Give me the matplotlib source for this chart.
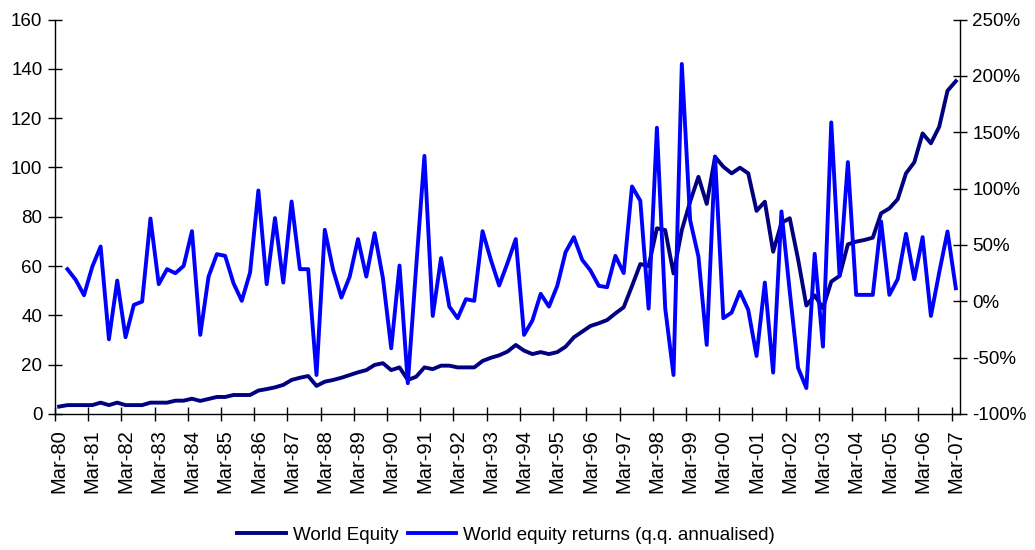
import numpy as np
import matplotlib
matplotlib.use("Agg")
from matplotlib import pyplot as plt
from matplotlib.ticker import FuncFormatter

plt.rcParams["font.family"] = ["Liberation Sans", "DejaVu Sans"]

# quarterly, Mar-80 .. Mar-07
years = ["80", "81", "82", "83", "84", "85", "86", "87", "88", "89",
         "90", "91", "92", "93", "94", "95", "96", "97", "98", "99",
         "00", "01", "02", "03", "04", "05", "06", "07"]
tick_labels = ["Mar-" + y for y in years]

world_equity = [
    3.0, 3.6, 3.6, 3.6, 3.6, 4.6, 3.6, 4.6, 3.6, 3.6,
    3.6, 4.6, 4.6, 4.6, 5.4, 5.4, 6.2, 5.3, 6.1, 6.9,
    6.9, 7.7, 7.7, 7.7, 9.5, 10.1, 10.8, 11.8, 13.8, 14.7,
    15.4, 11.4, 13.1, 13.8, 14.7, 15.8, 16.9, 17.8, 19.9, 20.6,
    17.8, 18.9, 13.8, 15.1, 18.9, 18.2, 19.6, 19.6, 18.9, 18.9,
    18.9, 21.5, 22.8, 23.8, 25.3, 28.0, 25.7, 24.3, 25.1, 24.3,
    25.1, 27.3, 31.1, 33.4, 35.7, 36.8, 38.1, 40.8, 43.3, 51.9,
    60.8, 60.0, 75.3, 74.6, 57.0, 74.6, 86.1, 96.2, 85.2, 104.3,
    100.3, 97.6, 99.9, 97.6, 82.4, 86.1, 65.8, 77.5, 79.4, 62.8,
    44.0, 48.1, 42.9, 53.7, 56.0, 68.8, 69.9, 70.6, 71.5, 81.4,
    83.4, 87.1, 97.6, 102.1, 113.8, 109.8, 116.5, 131.1, 135.0,
]

# q.q. annualised returns, % (first quarter has none)
equity_returns = [
    np.nan, 28.5, 19.0, 5.4, 30.8, 48.6, -33.7, 18.4, -31.9, -3.2,
    -0.3, 73.4, 15.2, 28.5, 24.9, 31.4, 62.2, -29.8, 21.9, 41.8,
    40.3, 16.1, 0.4, 25.5, 98.3, 15.2, 73.8, 16.6, 88.5, 28.5,
    28.5, -65.4, 63.4, 27.9, 3.3, 21.9, 55.2, 21.9, 60.5, 20.5,
    -41.7, 31.7, -72.7, 30.0, 129.0, -13.0, 38.3, -4.7, -15.0, 1.9,
    0.4, 62.2, 36.8, 14.0, 33.8, 55.2, -29.8, -17.1, 6.6, -4.7,
    13.7, 43.6, 56.9, 36.8, 27.3, 13.7, 12.5, 40.3, 25.0, 101.9,
    89.2, -6.5, 154.0, -6.2, -65.4, 210.6, 72.0, 39.7, -38.7, 128.5,
    -15.0, -10.0, 8.5, -7.6, -48.5, 16.6, -63.3, 79.7, 8.6, -59.0,
    -77.0, 42.1, -40.2, 158.7, 22.6, 123.5, 5.7, 5.7, 5.7, 70.8,
    5.7, 19.6, 59.9, 19.6, 56.9, -13.0, 25.5, 61.9, 11.6,
]

n = len(world_equity)
x = np.arange(n)

fig = plt.figure(figsize=(10.35, 5.5), dpi=100)
ax = fig.add_axes([0.0531, 0.2473, 0.8744, 0.7172])
ax2 = ax.twinx()

l1, = ax.plot(x, world_equity, color="#000080", lw=2.8, label="World Equity")
l2, = ax2.plot(x, equity_returns, color="#0000FF", lw=2.8,
               label="World equity returns (q.q. annualised)")

ax.set_xlim(-0.5, n - 0.5)
ax.set_ylim(0, 160)
ax.set_yticks(np.arange(0, 161, 20))
ax2.set_ylim(-100, 250)
ax2.set_yticks(np.arange(-100, 251, 50))
ax2.yaxis.set_major_formatter(FuncFormatter(lambda v, p: f"{v:.0f}%"))

ax.set_xticks(np.arange(0, n, 4))
ax.set_xticklabels(tick_labels, rotation=90)
ax.set_xticks(np.arange(-0.5, n - 1, 4), minor=True)
ax.tick_params(axis="x", which="major", length=0, pad=11, labelsize=14.5)
ax.tick_params(axis="x", which="minor", direction="inout", length=10, width=1)
ax.tick_params(axis="y", direction="inout", length=10, width=1, labelsize=13.5, pad=4)
ax2.tick_params(axis="y", direction="inout", length=10, width=1, labelsize=13.5, pad=4)

for a in (ax, ax2):
    a.spines["top"].set_visible(False)
    for s in a.spines.values():
        s.set_linewidth(1)
ax.spines["right"].set_visible(False)
ax2.spines["left"].set_visible(False)
ax2.spines["bottom"].set_visible(False)

fig.legend(handles=[l1, l2], loc="center", bbox_to_anchor=(0.489, 0.027),
           ncol=2, frameon=False, fontsize=13.5, handlelength=2.6,
           handletextpad=0.35, columnspacing=0.5)

fig.savefig("out.png", dpi=100)
